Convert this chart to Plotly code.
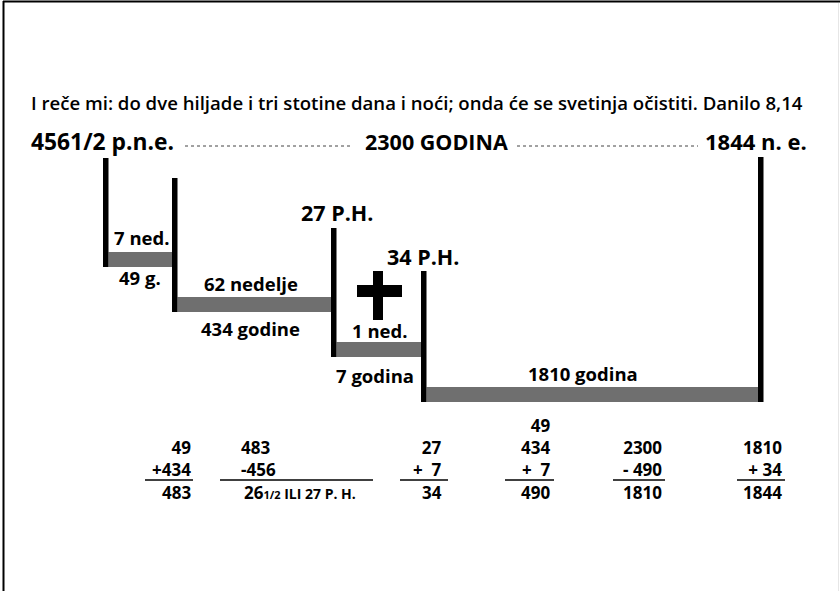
import plotly.graph_objects as go

# ---------------- data ----------------
title_text = "I reče mi: do dve hiljade i tri stotine dana i noći; onda će se svetinja očistiti. Danilo 8,14"
start_label = "4561/2 p.n.e."
span_label = "2300 GODINA"
end_label = "1844 n. e."

event_labels = ["", "", "27 P.H.", "34 P.H.", ""]
week_labels = ["7 ned.", "62 nedelje", "1 ned.", "1810 godina"]
year_labels = ["49 g.", "434 godine", "7 godina", ""]

# each column: operand lines (top to bottom), then the result
calc_operands = [
    ["49", "+434"],
    ["483", "-456"],
    ["27", "+\u00a0\u00a07"],
    ["49", "434", "+\u00a0\u00a07"],
    ["2300", "- 490"],
    ["1810", "+ 34"],
]
calc_results = [
    "483",
    "26<span style='font-size:11px'>1/2</span><span style='font-size:14px'> ILI 27 P. H.</span>",
    "34",
    "490",
    "1810",
    "1844",
]

# ---------------- layout geometry (pixel space) ----------------
W, H = 840, 591
FONT = "Open Sans"
BLACK = "#000000"
GRAY = "#6f6f6f"

# vertical markers: x-left, top, bottom
markers = [(103, 158, 267), (172, 178, 312), (331, 228, 357), (421, 271, 402), (758, 157, 402)]
MW = 5.5
BAR_H = 15

fig = go.Figure()
fig.add_trace(go.Scatter(x=[0, W], y=[0, H], mode="markers", marker=dict(opacity=0), hoverinfo="skip", showlegend=False))

shapes = []
# frame
shapes.append(dict(type="line", x0=3.5, x1=3.5, y0=1, y1=H, line=dict(color=BLACK, width=2)))
shapes.append(dict(type="line", x0=3, x1=W, y0=1.5, y1=1.5, line=dict(color=BLACK, width=2)))
shapes.append(dict(type="line", x0=838.5, x1=838.5, y0=3, y1=H, line=dict(color="#e6e6e6", width=1)))

# gray period bars (sit at the foot of the left marker)
for i in range(len(week_labels)):
    xl = markers[i][0] + MW
    xr = markers[i + 1][0]
    yb = markers[i][2]
    shapes.append(dict(type="rect", x0=xl, x1=xr, y0=yb - BAR_H, y1=yb, fillcolor=GRAY, line=dict(width=0)))
# vertical markers
for (x, t, b) in markers:
    shapes.append(dict(type="rect", x0=x, x1=x + MW, y0=t, y1=b, fillcolor=BLACK, line=dict(width=0)))

# cross
shapes.append(dict(type="rect", x0=373, x1=383, y0=271, y1=320, fillcolor=BLACK, line=dict(width=0)))
shapes.append(dict(type="rect", x0=357, x1=402, y0=285, y1=297, fillcolor=BLACK, line=dict(width=0)))

# dotted connectors
shapes.append(dict(type="line", x0=185, x1=352, y0=146, y1=146, line=dict(color="#444", width=1, dash="dot")))
shapes.append(dict(type="line", x0=517, x1=698, y0=146, y1=146, line=dict(color="#444", width=1, dash="dot")))

ann = []

def T(x, y, text, size, xanchor="center", yanchor="middle", weight="bold", align="center"):
    ann.append(dict(x=x, y=y, xref="x", yref="y", text=text, showarrow=False,
                    xanchor=xanchor, yanchor=yanchor, align=align, borderpad=0,
                    font=dict(family=FONT, size=size, color=BLACK, weight=weight)))

T(30, 102, title_text, 18.6, xanchor="left", weight=600)
T(30, 141, start_label, 22.8, xanchor="left")
T(436, 141, span_label, 21.5)
T(808, 141, end_label, 22, xanchor="right")

# event labels
event_pos = [None, None, (337, 212), (423, 256), None]
for lab, p in zip(event_labels, event_pos):
    if lab and p:
        T(p[0], p[1], lab, 21.5)

week_pos = [(141, 237), (251, 283), (379, 330), (583, 373)]
year_pos = [(140, 277), (250, 328), (375, 375), None]
for lab, p in zip(week_labels, week_pos):
    if lab:
        T(p[0], p[1], lab, 18.5)
for lab, p in zip(year_labels, year_pos):
    if lab and p:
        T(p[0], p[1], lab, 18.5)

# calculations
CALC_FS = 17
OPER_BOTTOM = 482
RESULT_Y = 492
col_right = [192, None, 443, 551, 663, 783]
col_left2 = 240
rule_spans = [(145, 193), (220, 373), (400, 448), (505, 554), (613, 665), (737, 785)]
for ci in range(len(calc_operands)):
    block = "<br>".join(calc_operands[ci])
    if ci == 1:
        T(col_left2, OPER_BOTTOM, block, CALC_FS, xanchor="left", yanchor="bottom", align="left")
        T(col_left2 + 3, RESULT_Y, calc_results[ci], CALC_FS, xanchor="left")
    else:
        T(col_right[ci], OPER_BOTTOM, block, CALC_FS, xanchor="right", yanchor="bottom", align="right")
        T(col_right[ci], RESULT_Y, calc_results[ci], CALC_FS, xanchor="right")
    x0, x1 = rule_spans[ci]
    shapes.append(dict(type="line", x0=x0, x1=x1, y0=480, y1=480, line=dict(color=BLACK, width=1.5)))

fig.update_layout(
    width=W, height=H, margin=dict(l=0, r=0, t=0, b=0),
    paper_bgcolor="white", plot_bgcolor="white",
    xaxis=dict(range=[0, W], visible=False, fixedrange=True),
    yaxis=dict(range=[H, 0], visible=False, fixedrange=True),
    shapes=shapes, annotations=ann, showlegend=False,
)
fig.write_html("out.html", config={"displayModeBar": False},
               post_script="document.body.style.margin='0';document.body.style.overflow='hidden';")
